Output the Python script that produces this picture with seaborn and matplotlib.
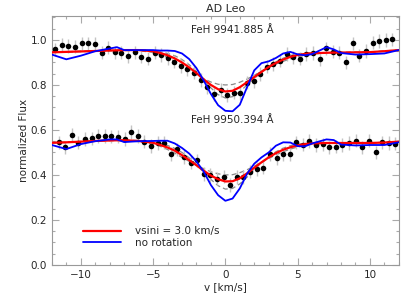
import numpy as np
import pandas as pd
import seaborn as sns
import matplotlib.pyplot as plt
from matplotlib.ticker import MultipleLocator, FormatStrFormatter

# observed points, line 1 (FeH 9941.885 A)
v_obs1 = [-11.76, -11.30, -10.85, -10.39, -9.93, -9.47, -9.02, -8.56, -8.10, -7.65,
          -7.19, -6.73, -6.27, -5.82, -5.36, -4.90, -4.45, -3.99, -3.53, -3.07,
          -2.62, -2.16, -1.70, -1.25, -0.79, -0.33, 0.12, 0.58, 1.04, 1.49,
          1.95, 2.41, 2.87, 3.32, 3.78, 4.24, 4.69, 5.15, 5.61, 6.06,
          6.52, 6.98, 7.44, 7.89, 8.35, 8.81, 9.26, 9.72, 10.18, 10.63,
          11.09, 11.55]
f_obs1 = [0.958, 0.978, 0.973, 0.970, 0.985, 0.985, 0.981, 0.944, 0.966, 0.945,
          0.944, 0.929, 0.945, 0.926, 0.917, 0.944, 0.933, 0.920, 0.904, 0.884,
          0.870, 0.855, 0.822, 0.790, 0.760, 0.778, 0.756, 0.766, 0.763, 0.810,
          0.818, 0.849, 0.881, 0.893, 0.908, 0.938, 0.923, 0.917, 0.938, 0.941,
          0.914, 0.963, 0.948, 0.944, 0.900, 0.985, 0.930, 0.952, 0.988, 0.996,
          1.000, 1.003]

# observed points, line 2 (FeH 9950.394 A)
v_obs2 = [-11.53, -11.08, -10.62, -10.16, -9.71, -9.25, -8.79, -8.34, -7.88, -7.42,
          -6.97, -6.51, -6.05, -5.60, -5.14, -4.68, -4.23, -3.77, -3.31, -2.86,
          -2.40, -1.94, -1.49, -1.03, -0.57, -0.12, 0.34, 0.80, 1.25, 1.71,
          2.17, 2.62, 3.08, 3.54, 3.99, 4.45, 4.91, 5.36, 5.82, 6.28,
          6.73, 7.19, 7.65, 8.10, 8.56, 9.02, 9.47, 9.93, 10.39, 10.84,
          11.30, 11.76]
f_obs2 = [0.545, 0.523, 0.578, 0.544, 0.559, 0.563, 0.572, 0.573, 0.571, 0.570,
          0.559, 0.590, 0.574, 0.548, 0.529, 0.541, 0.544, 0.493, 0.514, 0.479,
          0.455, 0.465, 0.405, 0.400, 0.383, 0.392, 0.356, 0.390, 0.390, 0.415,
          0.426, 0.433, 0.494, 0.475, 0.494, 0.492, 0.545, 0.535, 0.550, 0.533,
          0.536, 0.523, 0.526, 0.533, 0.543, 0.552, 0.523, 0.552, 0.500, 0.545,
          0.543, 0.539]

err1 = [0.03] * len(v_obs1)
err2 = [0.03] * len(v_obs2)

# model grid
v_mod = [-12, -11, -10, -9, -8, -7.5, -7, -6, -5, -4.5, -4, -3.5, -3, -2.5, -2,
         -1.5, -1, -0.5, 0, 0.5, 1, 1.5, 2, 2.5, 3, 3.5, 4, 4.5, 5, 5.5, 6,
         7, 7.5, 8, 9, 10, 11, 12]

red1 = [0.945, 0.947, 0.949, 0.951, 0.953, 0.954, 0.955, 0.955, 0.950, 0.942, 0.932,
        0.918, 0.900, 0.878, 0.853, 0.825, 0.800, 0.781, 0.771, 0.774, 0.790, 0.812,
        0.835, 0.858, 0.880, 0.898, 0.913, 0.925, 0.933, 0.938, 0.941, 0.943, 0.944,
        0.944, 0.945, 0.946, 0.950, 0.955]
gray1a = [0.944, 0.946, 0.948, 0.950, 0.952, 0.953, 0.953, 0.952, 0.945, 0.935, 0.922,
          0.905, 0.886, 0.866, 0.847, 0.828, 0.813, 0.803, 0.800, 0.802, 0.812, 0.826,
          0.843, 0.862, 0.878, 0.893, 0.905, 0.916, 0.925, 0.932, 0.937, 0.942, 0.943,
          0.944, 0.945, 0.946, 0.950, 0.955]
gray1b = [0.946, 0.948, 0.950, 0.952, 0.954, 0.955, 0.956, 0.956, 0.953, 0.948, 0.940,
          0.930, 0.913, 0.890, 0.860, 0.823, 0.787, 0.757, 0.742, 0.748, 0.770, 0.800,
          0.829, 0.856, 0.882, 0.903, 0.919, 0.931, 0.938, 0.941, 0.943, 0.944, 0.945,
          0.945, 0.946, 0.947, 0.951, 0.956]
blue1 = [0.935, 0.914, 0.930, 0.950, 0.962, 0.968, 0.955, 0.955, 0.955, 0.953, 0.953,
         0.951, 0.940, 0.915, 0.875, 0.820, 0.760, 0.710, 0.685, 0.683, 0.712, 0.790,
         0.865, 0.897, 0.905, 0.920, 0.940, 0.947, 0.936, 0.932, 0.937, 0.968, 0.958,
         0.942, 0.935, 0.937, 0.940, 0.955]

red2 = [0.543, 0.545, 0.548, 0.551, 0.553, 0.554, 0.554, 0.551, 0.543, 0.533, 0.522,
        0.508, 0.488, 0.466, 0.443, 0.419, 0.397, 0.381, 0.371, 0.372, 0.385, 0.407,
        0.432, 0.456, 0.478, 0.497, 0.512, 0.523, 0.531, 0.537, 0.540, 0.542, 0.542,
        0.542, 0.542, 0.542, 0.544, 0.548]
gray2a = [0.542, 0.544, 0.547, 0.550, 0.552, 0.553, 0.552, 0.548, 0.538, 0.527, 0.513,
          0.497, 0.478, 0.460, 0.443, 0.428, 0.414, 0.405, 0.400, 0.401, 0.410, 0.423,
          0.439, 0.456, 0.473, 0.489, 0.503, 0.515, 0.524, 0.531, 0.536, 0.541, 0.542,
          0.542, 0.542, 0.542, 0.544, 0.548]
gray2b = [0.544, 0.546, 0.549, 0.552, 0.554, 0.555, 0.555, 0.553, 0.547, 0.540, 0.531,
          0.518, 0.500, 0.476, 0.446, 0.412, 0.380, 0.352, 0.337, 0.340, 0.360, 0.390,
          0.423, 0.455, 0.482, 0.503, 0.519, 0.530, 0.537, 0.540, 0.542, 0.543, 0.543,
          0.543, 0.543, 0.543, 0.545, 0.549]
blue2 = [0.533, 0.515, 0.537, 0.550, 0.558, 0.558, 0.546, 0.550, 0.551, 0.552, 0.552,
         0.540, 0.520, 0.495, 0.460, 0.415, 0.355, 0.310, 0.285, 0.295, 0.340, 0.405,
         0.450, 0.478, 0.500, 0.530, 0.545, 0.544, 0.528, 0.527, 0.540, 0.558, 0.555,
         0.535, 0.531, 0.533, 0.533, 0.545]

line_labels = ["FeH 9941.885 \u00c5", "FeH 9950.394 \u00c5"]

sns.set_style("ticks")
plt.rcParams['font.family'] = ['DejaVu Sans']

fig = plt.figure(figsize=(4.15, 3.0), dpi=100)
ax = fig.add_axes([0.125, 0.117, 0.836, 0.830])

for gA, gB in [(gray1a, gray1b), (gray2a, gray2b)]:
    for g in (gA, gB):
        sns.lineplot(x=v_mod, y=g, ax=ax, color="#888888", lw=0.9,
                     linestyle=(0, (4, 2.5)), sort=False, legend=False)

for vo, fo, eo in [(v_obs1, f_obs1, err1), (v_obs2, f_obs2, err2)]:
    ax.errorbar(vo, fo, yerr=eo, fmt="none", ecolor="#c4c4c4", elinewidth=1.0, zorder=2)
    sns.scatterplot(x=vo, y=fo, ax=ax, color="black", s=16, linewidth=0, zorder=3)

sns.lineplot(x=v_mod, y=red1, ax=ax, color="#ff0000", lw=1.6, sort=False,
             label="vsini = 3.0 km/s", zorder=4)
sns.lineplot(x=v_mod, y=blue1, ax=ax, color="#0000ff", lw=1.3, sort=False,
             label="no rotation", zorder=4)
sns.lineplot(x=v_mod, y=red2, ax=ax, color="#ff0000", lw=1.6, sort=False, zorder=4)
sns.lineplot(x=v_mod, y=blue2, ax=ax, color="#0000ff", lw=1.3, sort=False, zorder=4)

ax.text(-2.4, 1.044, line_labels[0], fontsize=7.5, va="center")
ax.text(-2.4, 0.644, line_labels[1], fontsize=7.5, va="center")

ax.set_xlim(-12, 12)
ax.set_ylim(0, 1.107)
ax.xaxis.set_major_locator(MultipleLocator(5))
ax.xaxis.set_minor_locator(MultipleLocator(1))
ax.yaxis.set_major_locator(MultipleLocator(0.2))
ax.yaxis.set_minor_locator(MultipleLocator(0.05))
ax.yaxis.set_major_formatter(FormatStrFormatter("%.1f"))
ax.tick_params(which="both", direction="in", top=True, right=True,
               labelsize=7.5, color="#aaaaaa", width=0.8)
ax.tick_params(which="major", length=5)
ax.tick_params(which="minor", length=2.5)
for s in ax.spines.values():
    s.set_color("#999999")
    s.set_linewidth(0.8)

ax.set_title("AD Leo", fontsize=8, pad=3)
ax.set_xlabel("v [km/s]", fontsize=7.5, labelpad=2)
ax.set_ylabel("normalized Flux", fontsize=7.5, labelpad=1)

leg = ax.legend(loc="lower left", bbox_to_anchor=(0.065, 0.035), frameon=False,
                fontsize=7.5, handlelength=3.7, handletextpad=1.3,
                labelspacing=0.15, borderpad=0.3)

fig.savefig("out.png", dpi=100)
